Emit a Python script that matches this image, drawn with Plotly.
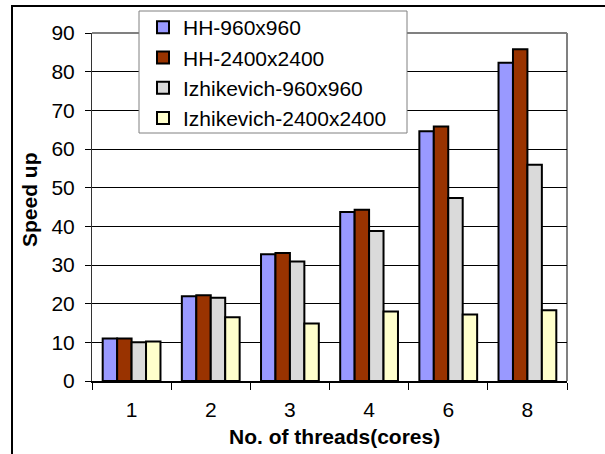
import plotly.graph_objects as go

categories = ["1", "2", "3", "4", "6", "8"]
series_names = ["HH-960x960", "HH-2400x2400", "Izhikevich-960x960", "Izhikevich-2400x2400"]
hh_960 = [11.0, 21.9, 32.8, 43.7, 64.6, 82.3]
hh_2400 = [11.0, 22.2, 33.1, 44.3, 65.8, 85.8]
izh_960 = [10.0, 21.5, 30.9, 38.8, 47.3, 55.9]
izh_2400 = [10.2, 16.5, 14.9, 18.0, 17.2, 18.3]
colors = ["#9999FF", "#993300", "#DADADA", "#FFFFCC"]

W, H = 605, 454
L, R, T, B = 92, 567, 33, 381

def px(x):
    return (x - L) / (R - L)

def py(y):
    return (B - y) / (B - T)

FONT = "Arial, Liberation Sans, sans-serif"

fig = go.Figure()
for i, (name, vals) in enumerate(zip(series_names, [hh_960, hh_2400, izh_960, izh_2400])):
    fig.add_trace(go.Bar(
        x=categories, y=vals, name=name,
        marker=dict(color=colors[i], line=dict(color="black", width=2)),
    ))

shapes = [
    dict(type="line", xref="paper", yref="paper", x0=0, x1=1, y0=1, y1=1,
         line=dict(color="#808080", width=2), layer="below"),
    dict(type="line", xref="paper", yref="paper", x0=1, x1=1, y0=0, y1=1,
         line=dict(color="#808080", width=2), layer="below"),
    dict(type="rect", xref="paper", yref="paper", x0=px(139), x1=px(407), y0=py(133), y1=py(11),
         fillcolor="white", line=dict(color="#808080", width=1), layer="above"),
    dict(type="rect", xref="paper", yref="paper", x0=px(12), x1=px(700), y0=py(560), y1=py(6),
         fillcolor="rgba(0,0,0,0)", line=dict(color="black", width=2), layer="above"),
]

annotations = [
    dict(text="<b>No. of threads(cores)</b>", xref="paper", yref="paper", x=px(334), y=py(436),
         showarrow=False, font=dict(family=FONT, size=21, color="black"), xanchor="center", yanchor="middle"),
    dict(text="<b>Speed up</b>", xref="paper", yref="paper", x=px(29), y=py(199), textangle=-90,
         showarrow=False, font=dict(family=FONT, size=21, color="black"), xanchor="center", yanchor="middle"),
]

fig.update_layout(
    width=W, height=H,
    margin=dict(l=L, r=W - R, t=T, b=H - B, pad=0, autoexpand=False),
    paper_bgcolor="white", plot_bgcolor="white",
    barmode="group", bargap=0.27, bargroupgap=0,
    font=dict(family=FONT, size=21, color="black"),
    showlegend=True,
    legend=dict(x=px(143), y=py(7), xanchor="left", yanchor="top",
                bgcolor="rgba(0,0,0,0)", borderwidth=0,
                font=dict(family=FONT, size=21, color="black")),
    shapes=shapes, annotations=annotations,
)
fig.update_xaxes(
    type="category", showline=True, linecolor="black", linewidth=2,
    ticks="outside", ticklen=7, tickcolor="black", tickwidth=1, tickson="boundaries",
    ticklabelstandoff=9, showgrid=False, tickfont=dict(size=21),
)
fig.update_yaxes(
    range=[0, 90], dtick=10, showline=True, linecolor="#333333", linewidth=1,
    ticks="outside", ticklen=6, tickcolor="black", tickwidth=1,
    ticklabelstandoff=6, showgrid=True, gridcolor="black", gridwidth=1,
    zeroline=False, tickfont=dict(size=21),
)

fig.write_html("out.html")
